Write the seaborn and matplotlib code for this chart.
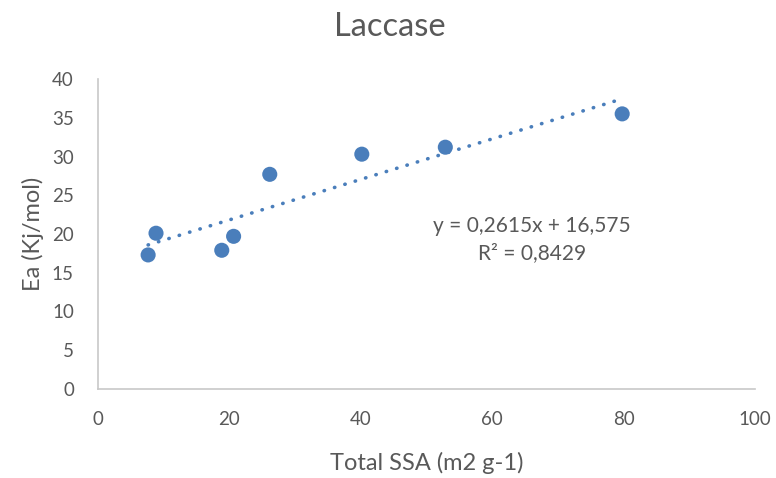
import numpy as np
import pandas as pd
import matplotlib
matplotlib.use("Agg")
import matplotlib.pyplot as plt
import seaborn as sns

# Measured data: total specific surface area vs activation energy
ssa = [7.7, 8.9, 18.9, 20.7, 26.2, 40.2, 52.9, 79.8]
ea = [17.3, 20.1, 17.9, 19.7, 27.7, 30.3, 31.2, 35.5]

# Linear trendline coefficients
slope = 0.2615
intercept = 16.575
r2 = 0.8429

x_ticks = [0, 20, 40, 60, 80, 100]
y_ticks = [0, 5, 10, 15, 20, 25, 30, 35, 40]

df = pd.DataFrame({"Total SSA (m2 g-1)": ssa, "Ea (Kj/mol)": ea})

sns.set_theme(style="white")
plt.rcParams["font.family"] = ["Lato", "DejaVu Sans"]

text_color = "#595959"
blue = "#4A7EBB"

W, H = 776, 478
L, R, T, B = 97.5, 755, 79, 389
fig = plt.figure(figsize=(W / 100, H / 100), dpi=100)
ax = fig.add_axes([L / W, 1 - B / H, (R - L) / W, (B - T) / H])

sns.scatterplot(data=df, x="Total SSA (m2 g-1)", y="Ea (Kj/mol)", ax=ax,
                s=118, color=blue, edgecolor="none", zorder=3, clip_on=False)

# Dotted linear trendline across the data range
xl = np.array([min(ssa), max(ssa)])
ax.plot(xl, slope * xl + intercept, color=blue, lw=2.6,
        linestyle=(0, (0.1, 2.9)), dash_capstyle="round", zorder=2)

ax.set_xlim(0, 100)
ax.set_ylim(0, 40)
ax.set_xticks(x_ticks)
ax.set_yticks(y_ticks)
ax.tick_params(axis="both", labelsize=13.5, colors=text_color, length=0)
ax.tick_params(axis="x", pad=16)
ax.tick_params(axis="y", pad=17)

for side in ("top", "right"):
    ax.spines[side].set_visible(False)
for side in ("left", "bottom"):
    ax.spines[side].set_color("#C8C8C8")
    ax.spines[side].set_linewidth(1.2)

ax.set_xlabel("Total SSA (m2 g-1)", fontsize=17, color=text_color, va="center")
ax.xaxis.set_label_coords(0.5, (B - 463) / (B - T))
ax.set_ylabel("Ea (Kj/mol)", fontsize=17, color=text_color, va="center")
ax.yaxis.set_label_coords((33 - L) / (R - L), 0.5)

fig.text(390 / W, 1 - 36 / H, "Laccase", ha="center", va="baseline",
         fontsize=23.5, color=text_color)

eq = f"y = {slope:.4f}x + {intercept:.3f}".replace(".", ",")
rs = f"R² = {r2:.4f}".replace(".", ",")
ax.text(66.1, 19.3, eq + "\n" + rs, ha="center", va="center",
        fontsize=15, color=text_color, linespacing=1.45)

fig.savefig("out.png", dpi=100)
